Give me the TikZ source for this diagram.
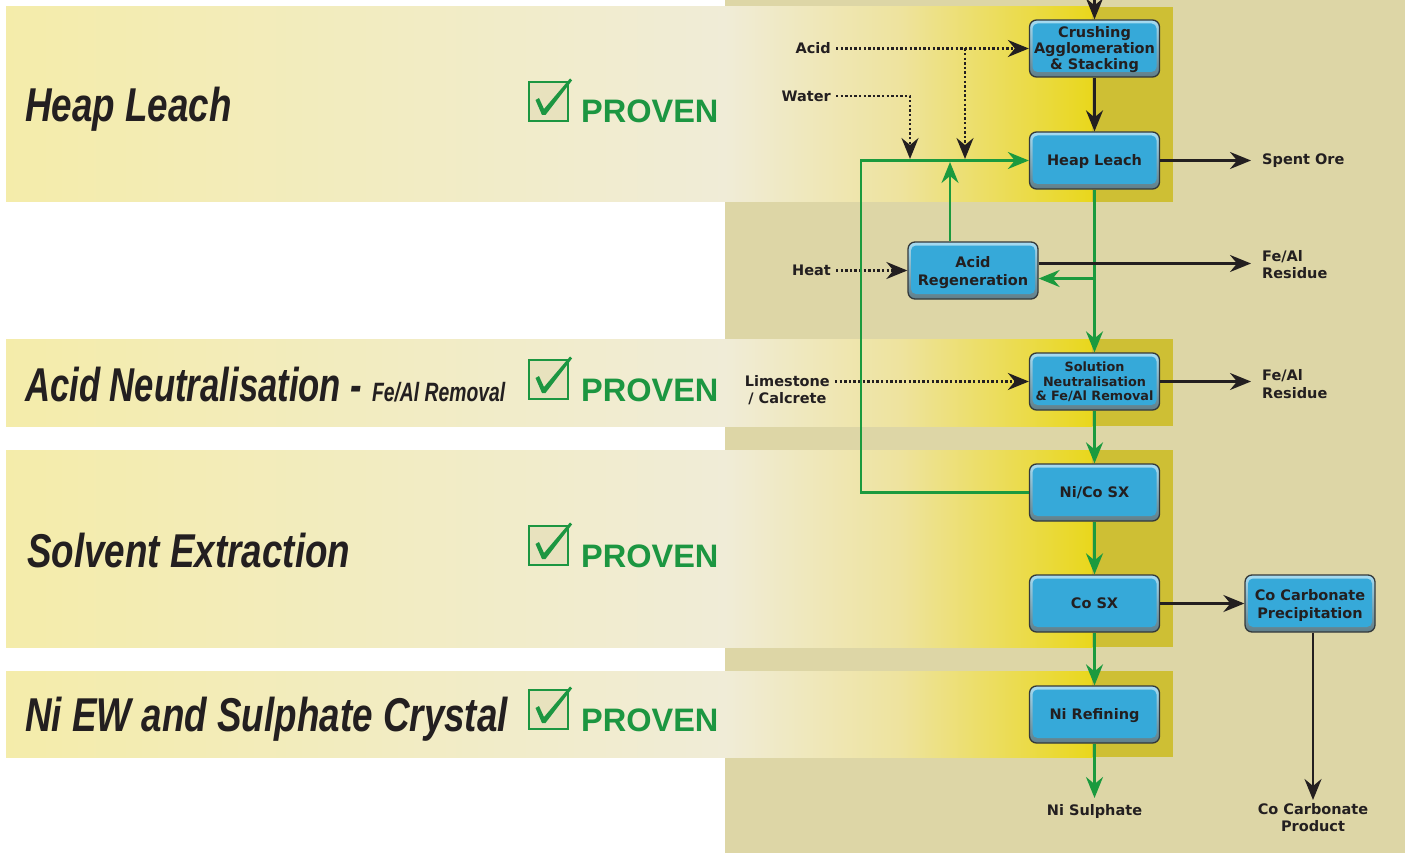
\documentclass[tikz,border=0pt]{standalone}
\usepackage{fontspec}
\setmainfont{Liberation Sans}
\newfontfamily\headfont[FakeStretch=0.775]{Liberation Sans}
\newfontfamily\headfontn[FakeStretch=0.73]{Liberation Sans}
\newfontfamily\labfont{DejaVu Sans}
\usetikzlibrary{arrows.meta}
\definecolor{ink}{HTML}{231F20}
\definecolor{tanbg}{HTML}{DDD6A6}
\definecolor{bandA}{HTML}{F4ECAA}
\definecolor{bandB}{HTML}{F0ECD7}
\definecolor{bandC}{HTML}{EEE39E}
\definecolor{bandD}{HTML}{E9D71C}
\definecolor{bandE}{HTML}{CEBF34}
\definecolor{flowgreen}{HTML}{1B9A3E}
\definecolor{provgreen}{HTML}{1C9641}
\definecolor{chkfill}{HTML}{E8E2BE}
\definecolor{boxblue}{HTML}{36A9D9}
\definecolor{boxhi}{HTML}{A6DCF3}
\definecolor{boxlo}{HTML}{5F7E89}
\definecolor{boxedge}{HTML}{33393B}
\newcommand\drawband[2]{%
  \shade[left color=bandA, right color=bandB] (6,#1) rectangle (725.5,#2);
  \shade[left color=bandB, right color=bandC] (725,#1) rectangle (900.5,#2);
  \shade[left color=bandC, right color=bandD] (900,#1) rectangle (1092.5,#2);
  \fill[bandE] (1092,#1) rectangle (1173,#2);}
\newcommand\boxtext[1]{\raisebox{-2pt}[\height][\depth]{\begin{tabular}{@{}c@{}}#1\end{tabular}}}
\tikzset{
  procbox/.style={draw=boxedge, line width=1.3pt, rounded corners=7pt,
    minimum width=130pt, minimum height=57pt, inner sep=0pt,
    top color=boxhi, bottom color=boxlo, align=center, text=ink,
    font=\labfont\bfseries\fontsize{14.5}{16}\selectfont,
    path picture={\fill[boxblue, rounded corners=5pt]
      ([shift={(3pt,5pt)}]path picture bounding box.south west) rectangle
      ([shift={(-3pt,-3.5pt)}]path picture bounding box.north east);}},
  lab/.style={inner sep=0pt, text=ink, align=center,
    font=\labfont\bfseries\fontsize{14.5}{17.5}\selectfont},
  head/.style={inner sep=0pt, text=ink, anchor=base west,
    font=\headfont\bfseries\itshape\fontsize{47.5}{50}\selectfont},
  proven/.style={inner sep=0pt, text=provgreen, anchor=base west,
    font=\bfseries\fontsize{32.5}{34}\selectfont},
  tipshape/.tip={Stealth[length=21pt, width=17pt, inset=7pt]},
  bflow/.style={draw=ink, line width=2.4pt, -tipshape},
  gflow/.style={draw=flowgreen, line width=2.4pt, -tipshape},
  dflow/.style={draw=ink, line width=2.3pt, dash pattern=on 2.3pt off 2.3pt, -tipshape},
  chkbox/.pic={
    \draw[provgreen, line width=2.4pt, fill=chkfill] (0,0) rectangle (39,39);
    \fill[provgreen] (6.5,18) -- (10,16) -- (15,27) -- (41,-3.5) -- (43,-1.5)
      -- (16.5,33) -- (13,33) -- cycle;}
}
\begin{document}
\begin{tikzpicture}[x=1pt, y=-1pt]
\useasboundingbox (0,0) rectangle (1405,853);
\fill[white] (0,0) rectangle (1405,853);
\fill[tanbg] (725,0) rectangle (1405,853);
\drawband{7}{202}
\drawband{339}{426}
\drawband{450}{647}
\drawband{671}{757}

% left headings
\node[head] (h1) at (25,122) {Heap Leach};
\node[head, font=\headfontn\bfseries\itshape\fontsize{47.5}{50}\selectfont] (h2) at (25,401) {Acid Neutralisation - {\fontsize{26.5}{27}\selectfont Fe/Al Removal}};
\node[head] (h3) at (27,567) {Solvent Extraction};
\node[head] (h4) at (25,731) {Ni EW and Sulphate Crystal};
\pic at (529,82) {chkbox};
\pic at (529,360) {chkbox};
\pic at (529,526) {chkbox};
\pic at (529,690) {chkbox};
\node[proven] (p1) at (581,123) {PROVEN};
\node[proven] (p2) at (581,401) {PROVEN};
\node[proven] (p3) at (581,567) {PROVEN};
\node[proven] (p4) at (581,731) {PROVEN};

% process boxes
\node[procbox] (crush) at (1094.5,48.5) {\boxtext{Crushing\\Agglomeration\\\& Stacking}};
\node[procbox] (heap) at (1094.5,160.5) {\boxtext{Heap Leach}};
\node[procbox, font=\labfont\bfseries\fontsize{14.5}{18}\selectfont] (acidreg) at (973,270.5) {\boxtext{Acid\\Regeneration}};
\node[procbox, font=\labfont\bfseries\fontsize{12.8}{14.5}\selectfont] (soln) at (1094.5,381.5) {\boxtext{Solution\\Neutralisation\\\& Fe/Al Removal}};
\node[procbox] (nicosx) at (1094.5,492.5) {\boxtext{Ni/Co SX}};
\node[procbox] (cosx) at (1094.5,603.5) {\boxtext{Co SX}};
\node[procbox] (niref) at (1094.5,714.5) {\boxtext{Ni Refining}};
\node[procbox, font=\labfont\bfseries\fontsize{14.5}{18}\selectfont] (cocarb) at (1310,603.5) {\boxtext{Co Carbonate\\Precipitation}};

% labels
\node[lab, anchor=east] (acid) at (831,48.5) {Acid};
\node[lab, anchor=east] (water) at (831,96) {Water};
\node[lab, anchor=east] (heat) at (831,270.5) {Heat};
\node[lab, anchor=east] (lime) at (830,390) {Limestone\\/ Calcrete};
\node[lab, anchor=west] (spent) at (1262,160.5) {Spent Ore};
\node[lab, anchor=west, align=left] (res1) at (1262,264.5) {Fe/Al\\Residue};
\node[lab, anchor=west, align=left] (res2) at (1262,384) {Fe/Al\\Residue};
\node[lab, anchor=north] (nisul) at (1094.5,804) {Ni Sulphate};
\node[lab, anchor=north] (prod) at (1313,803) {Co Carbonate\\Product};

% coordinates
\coordinate (topin) at (1094.5,-3);
\coordinate (acidbr) at (965,48.5);
\coordinate (acidtip) at (965,159);
\coordinate (watertip) at (910,159);
\coordinate (loopT) at (861,160.5);
\coordinate (regtip) at (950,162);
\coordinate (brR) at (1094.5,278.5);
\path (acidreg.east) ++(0,-7) coordinate (arOut);
\path (cocarb.south) ++(3,0) coordinate (ccOut);
\path (lime.east |- soln.west) ++(5,0) coordinate (limeOut);

% dotted inputs
\draw[dflow] ([xshift=5pt]acid.east) -- (crush.west);
\draw[dflow] (acidbr) -- (acidtip);
\draw[dflow] ([xshift=5pt]water.east) -| (watertip);
\draw[dflow] ([xshift=5pt]heat.east) -- (acidreg.west);
\draw[dflow] (limeOut) -- (soln.west);

% green flows
\draw[gflow] (nicosx.west) -| (loopT) -- (heap.west);
\draw[gflow] ([xshift=-23pt]acidreg.north) -- (regtip);
\draw[gflow] (heap.south) -- (soln.north);
\draw[gflow] (brR) -- (brR -| acidreg.east);
\draw[gflow] (soln.south) -- (nicosx.north);
\draw[gflow] (nicosx.south) -- (cosx.north);
\draw[gflow] (cosx.south) -- (niref.north);
\draw[gflow, shorten >=6pt] (niref.south) -- (nisul.north);

% black flows
\draw[bflow] (topin) -- (crush.north);
\draw[bflow] (crush.south) -- (heap.north);
\draw[bflow, shorten >=11pt] (heap.east) -- (spent.west);
\draw[bflow, shorten >=11pt] (arOut) -- (arOut -| res1.west);
\draw[bflow, shorten >=11pt] (soln.east) -- (soln.east -| res2.west);
\draw[bflow] (cosx.east) -- (cocarb.west);
\draw[bflow, shorten >=3pt] (ccOut) -- (ccOut |- prod.north);
\end{tikzpicture}
\end{document}
